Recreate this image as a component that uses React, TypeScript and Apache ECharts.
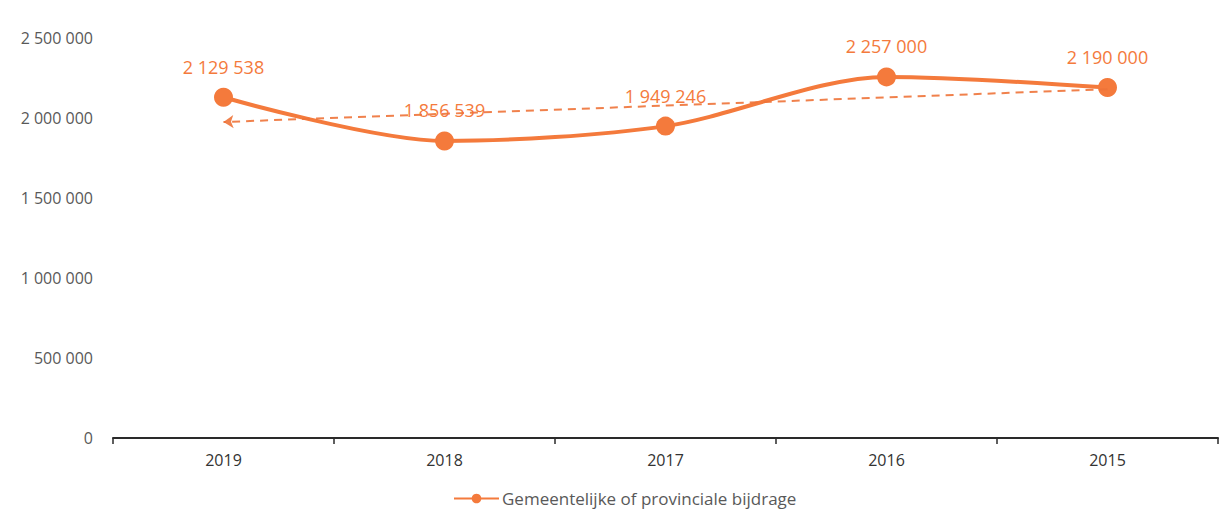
import React, { useEffect, useRef } from "react";
import * as echarts from "echarts";

const categories = ["2019", "2018", "2017", "2016", "2015"];
const values = [2129538, 1856539, 1949246, 2257000, 2190000];
const seriesName = "Gemeentelijke of provinciale bijdrage";
// dashed trend arrow endpoints: [category, value]
const trendFrom: [string, number] = ["2015", 2180000];
const trendTo: [string, number] = ["2019", 1975000];
const yTicks = { min: 0, max: 2500000, interval: 500000 };

const ORANGE = "#F47A3C";
const GREY = "#595959";

const fmt = (v: number) => String(v).replace(/\B(?=(\d{3})+(?!\d))/g, " ");

export default function App() {
  const ref = useRef<HTMLDivElement>(null);
  useEffect(() => {
    if (!ref.current) return;
    const chart = echarts.init(ref.current, null, { renderer: "svg" });
    chart.setOption({
      animation: false,
      backgroundColor: "#ffffff",
      textStyle: { fontFamily: "Open Sans" },
      grid: { left: 113, right: 5, top: 38, bottom: 79, containLabel: false },
      legend: {
        bottom: 5,
        left: 448,
        itemWidth: 45,
        itemHeight: 12,
        itemGap: 4,
        textStyle: { color: GREY, fontSize: 17, fontFamily: "Open Sans", padding: [0, 0, 0, -2] },
        data: [{ name: seriesName }],
      },
      xAxis: {
        type: "category",
        data: categories,
        boundaryGap: true,
        axisLine: { show: true, lineStyle: { color: "#2a2a2a", width: 2 } },
        axisTick: { show: true, length: 6, lineStyle: { color: "#2a2a2a", width: 1.5 } },
        axisLabel: { color: "#333333", fontSize: 16, margin: 14, fontFamily: "Open Sans" },
        splitLine: { show: false },
      },
      yAxis: {
        type: "value",
        min: yTicks.min,
        max: yTicks.max,
        interval: yTicks.interval,
        axisLine: { show: false },
        axisTick: { show: false },
        splitLine: { show: false },
        axisLabel: {
          color: GREY,
          fontSize: 16,
          margin: 20,
          fontFamily: "Open Sans",
          formatter: (v: number) => fmt(v),
        },
      },
      series: [
        {
          name: seriesName,
          type: "line",
          data: values,
          smooth: 0.3,
          symbol: "circle",
          symbolSize: 19,
          lineStyle: { color: ORANGE, width: 4 },
          itemStyle: { color: ORANGE },
          label: {
            show: true,
            position: "top",
            distance: 12,
            color: ORANGE,
            fontSize: 18,
            fontFamily: "Open Sans",
            formatter: (p: any) => fmt(p.value),
          },
          z: 3,
          markLine: {
            silent: true,
            symbol: ["none", "arrow"],
            symbolSize: [10, 10],
            label: { show: false },
            lineStyle: { color: "#EE7338", type: [8, 6], width: 2, opacity: 0.9 },
            emphasis: { disabled: true },
            data: [
              [
                { coord: trendFrom, symbol: "none" },
                { coord: trendTo, symbol: "arrow" },
              ],
            ],
          },
        },
      ],
    });
    return () => chart.dispose();
  }, []);
  return (
    <div
      ref={ref}
      style={{ position: "absolute", left: 0, top: 0, width: 1223, height: 517 }}
    />
  );
}
